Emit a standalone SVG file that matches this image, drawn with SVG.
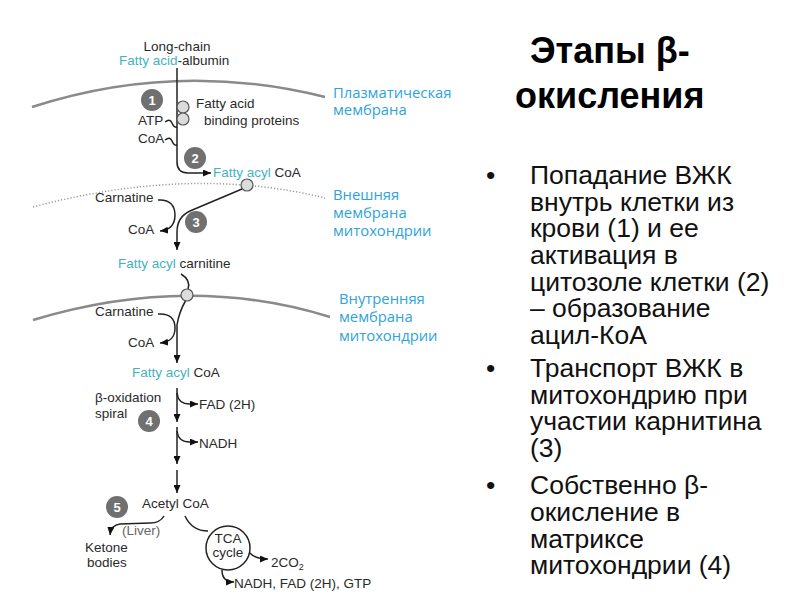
<svg xmlns="http://www.w3.org/2000/svg" width="800" height="600" viewBox="0 0 800 600">
<style>
.t{font-family:"Liberation Sans",Arial,sans-serif;font-size:13.5px;fill:#2a2a2a}
.teal{fill:#45b3bf}
.gray{fill:#666}
.blue{font-family:"Open Sans","DejaVu Sans",sans-serif;font-size:14.8px;fill:#2ea3dc}
.num{font-family:"Liberation Sans",Arial,sans-serif;font-size:13px;font-weight:bold;fill:#fff;text-anchor:middle}
.badge{fill:#707070}
.prot{fill:#dcdcdc;stroke:#555;stroke-width:1.2}
.ln{fill:none;stroke:#222;stroke-width:1.5}
.arr{marker-end:url(#ah)}
.mem{fill:none;stroke:#8a8a8a;stroke-width:2.5}
.memd{fill:none;stroke:#9a9a9a;stroke-width:1.5;stroke-dasharray:1.2 2}
.title{font-family:"Liberation Sans",Arial,sans-serif;font-size:36px;font-weight:bold;fill:#000}
.body{font-family:"Liberation Sans",Arial,sans-serif;font-size:26.5px;fill:#111}
</style>
<defs>
<marker id="ah" markerUnits="userSpaceOnUse" markerWidth="8" markerHeight="7" refX="8" refY="3.5" orient="auto">
<path d="M0,0 L8,3.5 L0,7 z" fill="#111"/>
</marker>
</defs>
<rect width="800" height="600" fill="#fff"/>

<g id="membranes">
<path class="mem" d="M32,107 Q177,60 325,97"/>
<path class="memd" d="M33,207 Q191,165 325,198"/>
<path class="mem" d="M33,320 Q188,273 330,317"/>
</g>

<g id="connectors">
<path class="ln arr" d="M177,68 L177,162 Q177,173 188,173 L211,173"/>
<path class="ln" d="M165,122 q5,-4 7,1 t5,4"/>
<path class="ln" d="M165,140 q5,-4 7,1 t5,4"/>
<path class="ln arr" d="M242,189 L190,211 Q177,217 177,232 L177,250"/>
<path class="ln arr" d="M158,200 C170,199 175,206 175,215 C175,225 170,230 160,231"/>
<path class="ln" d="M181,274 Q191,280 188,289"/>
<path class="ln arr" d="M186,300 Q179,312 177,325 L177,363"/>
<path class="ln arr" d="M158,314 C170,313 175,319 175,328 C175,338 170,342 160,343"/>
<path class="ln arr" d="M177,388 L177,422"/>
<path class="ln arr" d="M177,393 Q178,404 190,404 L198,404"/>
<path class="ln arr" d="M177,427 L177,464"/>
<path class="ln arr" d="M177,431 Q178,442 190,442 L198,442"/>
<path class="ln arr" d="M177,470 L177,493"/>
<path class="ln arr" d="M164,516 Q160,523 150,523 L120,524 Q111,525 110,535"/>
<path class="ln" d="M185,516 Q192,531 208,531"/>
<path class="ln arr" d="M250,553 Q255,559 268,559"/>
<path class="ln arr" d="M222,570 Q222,582 234,582"/>
</g>

<g id="albumin">
<text class="t" x="177" y="51" text-anchor="middle">Long-chain</text>
<text class="t" x="119" y="65"><tspan class="teal">Fatty acid</tspan>-albumin</text>
</g>

<g id="step1">
<circle class="badge" cx="152" cy="100" r="11"/>
<text class="num" x="152" y="105">1</text>
<circle class="prot" cx="183" cy="107" r="6"/>
<circle class="prot" cx="183" cy="119" r="6"/>
<text class="t" x="196" y="108">Fatty acid</text>
<text class="t" x="204" y="125">binding proteins</text>
<text class="t" x="138" y="125">ATP</text>
<text class="t" x="138" y="143">CoA</text>
</g>

<g id="step2">
<circle class="badge" cx="195" cy="158" r="11"/>
<text class="num" x="195" y="163">2</text>
<text class="t" x="213" y="177"><tspan class="teal">Fatty acyl</tspan> CoA</text>
</g>

<g id="step3">
<circle class="prot" cx="247" cy="185" r="6"/>
<text class="t" x="95" y="202">Carnatine</text>
<text class="t" x="128" y="234">CoA</text>
<circle class="badge" cx="196" cy="222" r="11"/>
<text class="num" x="196" y="227">3</text>
<text class="t" x="118" y="268"><tspan class="teal">Fatty acyl</tspan> carnitine</text>
</g>

<g id="inner-transport">
<circle class="prot" cx="187" cy="295" r="6"/>
<text class="t" x="95" y="316">Carnatine</text>
<text class="t" x="128" y="347">CoA</text>
<text class="t" x="132" y="377"><tspan class="teal">Fatty acyl</tspan> CoA</text>
</g>

<g id="step4">
<text class="t" x="95" y="402">β-oxidation</text>
<text class="t" x="95" y="418">spiral</text>
<circle class="badge" cx="149" cy="421" r="11"/>
<text class="num" x="149" y="426">4</text>
<text class="t" x="199" y="409">FAD (2H)</text>
<text class="t" x="199" y="448">NADH</text>
</g>

<g id="step5">
<circle class="badge" cx="117" cy="507" r="11"/>
<text class="num" x="117" y="512">5</text>
<text class="t" x="142" y="508">Acetyl CoA</text>
<text class="t gray" x="122" y="535">(Liver)</text>
<text class="t" x="85" y="552">Ketone</text>
<text class="t" x="87" y="567">bodies</text>
</g>

<g id="tca">
<circle cx="228" cy="548" r="22" fill="#fff" stroke="#222" stroke-width="1.5"/>
<text class="t" x="228" y="543" text-anchor="middle">TCA</text>
<text class="t" x="228" y="557" text-anchor="middle">cycle</text>
<text class="t" x="271" y="567">2CO<tspan font-size="9" dy="3">2</tspan></text>
<text class="t" x="234" y="588">NADH, FAD (2H), GTP</text>
</g>

<g id="labels">
<text class="blue" x="333" y="98">Плазматическая</text>
<text class="blue" x="333" y="115">мембрана</text>
<text class="blue" x="333" y="200">Внешняя</text>
<text class="blue" x="333" y="218">мембрана</text>
<text class="blue" x="333" y="236">митохондрии</text>
<text class="blue" x="339" y="304">Внутренняя</text>
<text class="blue" x="339" y="322">мембрана</text>
<text class="blue" x="339" y="341">митохондрии</text>
</g>

<g id="title">
<text class="title" x="530" y="63">Этапы β-</text>
<text class="title" x="515" y="108">окисления</text>
</g>

<g id="bullets">
<text class="body" x="486" y="184">•</text>
<text class="body" x="530" y="184">Попадание ВЖК</text>
<text class="body" x="530" y="211">внутрь клетки из</text>
<text class="body" x="530" y="237">крови (1) и ее</text>
<text class="body" x="530" y="264">активация в</text>
<text class="body" x="530" y="291">цитозоле клетки (2)</text>
<text class="body" x="530" y="317">– образование</text>
<text class="body" x="530" y="344">ацил-КоА</text>
<text class="body" x="486" y="377">•</text>
<text class="body" x="530" y="377">Транспорт ВЖК в</text>
<text class="body" x="530" y="404">митохондрию при</text>
<text class="body" x="530" y="430">участии карнитина</text>
<text class="body" x="530" y="457">(3)</text>
<text class="body" x="486" y="494">•</text>
<text class="body" x="530" y="494">Собственно β-</text>
<text class="body" x="530" y="521">окисление в</text>
<text class="body" x="530" y="548">матриксе</text>
<text class="body" x="530" y="574">митохондрии (4)</text>
</g>
</svg>
